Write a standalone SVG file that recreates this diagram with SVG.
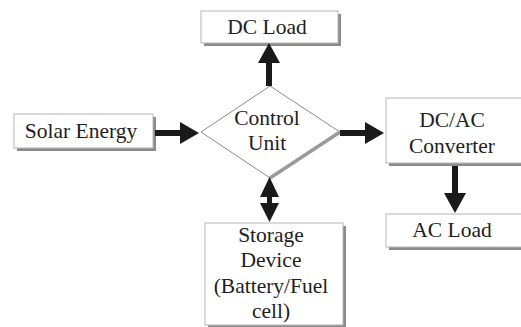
<svg xmlns="http://www.w3.org/2000/svg" width="521" height="327" viewBox="0 0 521 327">
<style>
.box{fill:#fff;stroke:#b5b5b5;stroke-width:1}
.shadow{fill:#8c8c8c}
.t{font-family:"Liberation Serif","Times New Roman",serif;font-size:21.5px;fill:#1e1e1e;text-anchor:middle}
.ar{fill:#1a1a1a}
</style>
<rect width="521" height="327" fill="#fff"/>
<g id="dc-load">
<rect class="shadow" x="204" y="14" width="137" height="32"/>
<rect class="box" x="201" y="11" width="137" height="32"/>
<text class="t" x="267" y="34">DC Load</text>
</g>
<g id="solar-energy">
<rect class="shadow" x="17" y="117" width="139" height="34"/>
<rect class="box" x="14" y="114" width="139" height="34"/>
<text class="t" x="81" y="138">Solar Energy</text>
</g>
<g id="control-unit">
<polygon points="270,86 340,132 270,178 201,132" fill="#fff" stroke="#8a8a8a" stroke-width="1"/>
<line x1="340" y1="132" x2="270" y2="178" stroke="#9a9a9a" stroke-width="3.5"/>
<text class="t" x="267" y="125">Control</text>
<text class="t" x="267" y="150">Unit</text>
</g>
<g id="dcac-converter">
<rect class="shadow" x="389" y="101" width="140" height="65"/>
<rect class="box" x="386" y="98" width="140" height="65"/>
<text class="t" x="452" y="127">DC/AC</text>
<text class="t" x="452" y="153">Converter</text>
</g>
<g id="ac-load">
<rect class="shadow" x="389" y="217" width="140" height="33"/>
<rect class="box" x="386" y="214" width="140" height="33"/>
<text class="t" x="452" y="237">AC Load</text>
</g>
<g id="storage-device">
<rect class="shadow" x="208" y="226" width="138" height="102"/>
<rect class="box" x="205" y="223" width="138" height="102"/>
<text class="t" x="271" y="242">Storage</text>
<text class="t" x="271" y="267">Device</text>
<text class="t" x="271" y="293">(Battery/Fuel</text>
<text class="t" x="271" y="318">cell)</text>
</g>
<g id="connectors">
<rect class="ar" x="266" y="62" width="6" height="24"/>
<polygon class="ar" points="269,43 280,63 258,63"/>
<rect class="ar" x="155" y="130" width="26" height="6"/>
<polygon class="ar" points="199,133 180,122 180,144"/>
<rect class="ar" x="340" y="130" width="26" height="6"/>
<polygon class="ar" points="384,133 365,122 365,144"/>
<rect class="ar" x="452" y="166" width="6" height="28"/>
<polygon class="ar" points="455,213 444,193 466,193"/>
<rect class="ar" x="267" y="195" width="5" height="10"/>
<polygon class="ar" points="269.5,177 279,197 260,197"/>
<polygon class="ar" points="269.5,222 279,203 260,203"/>
</g>
</svg>
